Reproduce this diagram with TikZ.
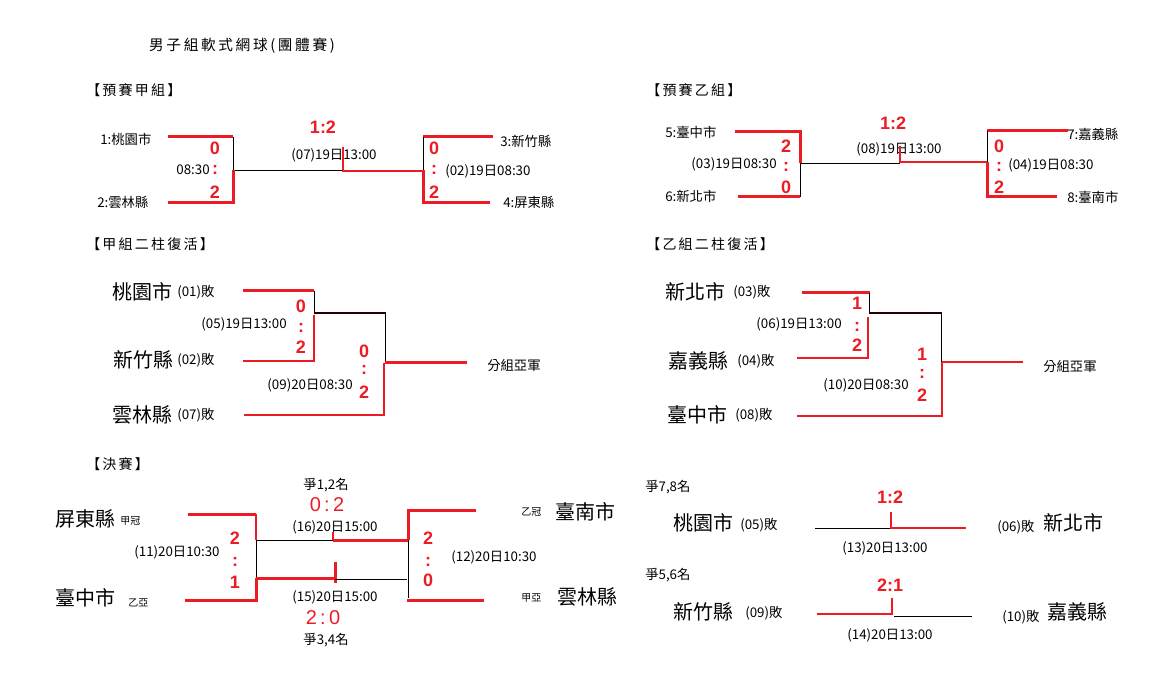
\documentclass[tikz,border=0pt]{standalone}
\usepackage{fontspec}
\setmainfont{Noto Sans CJK TC}
\newfontfamily\titlefont[LetterSpace=18]{Noto Sans CJK TC}
\newfontfamily\hdrfont[LetterSpace=16]{Noto Sans CJK TC}
\newfontfamily\scorefont{Liberation Sans}
\usetikzlibrary{positioning}
\definecolor{winred}{RGB}{237,28,36}

\begin{document}
\begin{tikzpicture}[x=0.75pt,y=-0.75pt,
  win/.style={winred,line width=2.25pt},
  winthin/.style={winred,line width=1.5pt},
  lose/.style={black,line width=0.6pt},
  done/.style={black!85!red,line width=1.5pt},
  sm/.style={font=\fontsize{10}{11}\selectfont,inner sep=0pt},
  wee/.style={font=\fontsize{7.5}{8}\selectfont,inner sep=0pt,anchor=west},
  big/.style={font=\fontsize{15}{16}\selectfont,inner sep=0pt,anchor=west},
  hdr/.style={font=\hdrfont\fontsize{10.5}{11}\selectfont,inner sep=0pt,anchor=west},
  score/.style={winred,font=\scorefont\bfseries\fontsize{13.5}{14}\selectfont,inner sep=0pt},
  fscore/.style={winred,font=\scorefont\fontsize{15}{16}\selectfont,inner sep=0pt}]

\useasboundingbox (0,0) rectangle (1163,680);

%------------------------
% Title
%------------------------
\node[font=\titlefont\fontsize{11}{12}\selectfont] (title) at (242,46) {男子組軟式網球(團體賽)};

%------------------------
% Group A (preliminary)
%------------------------
\node[hdr] (hA) at (86,90) {【預賽甲組】};
\node[sm,anchor=west] (a1) at (100,139) {1:桃園市};
\node[sm,anchor=west] (a2) at (97,202) {2:雲林縣};
\node[sm,anchor=west] (a3) at (500,141) {3:新竹縣};
\node[sm,anchor=west] (a4) at (503,202) {4:屏東縣};
\node[sm,anchor=east] (m01) at (210,170) {08:30};
\node[sm,anchor=west] (m02) at (445,171) {(02)19日08:30};
\node[sm] (m07) at (334,155) {(07)19日13:00};
\node[score] (r07) at (323,127) {1:2};

\draw[win] (168,137) -- (233,137);
\draw[lose] (233,137) -- (233,170) -- (343,170);
\draw[win] (233,170) -- (233,203) -- (168,203);
\draw[winthin] (343,147) -- (343,171) -- (423,171);
\draw[win] (493,137) -- (423,137);
\draw[lose] (423,137) -- (423,170);
\draw[win] (423,170) -- (423,203) -- (490,203);

%------------------------
% Group B (preliminary)
%------------------------
\node[hdr] (hB) at (646,90) {【預賽乙組】};
\node[sm,anchor=west] (b5) at (665,132) {5:臺中市};
\node[sm,anchor=west] (b6) at (665,196) {6:新北市};
\node[sm,anchor=west] (b7) at (1067,134) {7:嘉義縣};
\node[sm,anchor=west] (b8) at (1067,197) {8:臺南市};
\node[sm,anchor=east] (m03) at (777,164) {(03)19日08:30};
\node[sm,anchor=west] (m04) at (1008,165) {(04)19日08:30};
\node[sm] (m08) at (899,149) {(08)19日13:00};
\node[score] (r08) at (893,123) {1:2};

\draw[win] (735,132) -- (800,132) -- (800,163);
\draw[lose] (800,163) -- (800,197);
\draw[win] (738,197) -- (800,197);
\draw[lose] (800,163) -- (900,163);
\draw[winthin] (900,146) -- (900,162) -- (987,162);
\draw[win] (1068,131) -- (987,131);
\draw[lose] (987,131) -- (987,162);
\draw[win] (987,162) -- (987,197) -- (1057,197);

%------------------------
% Group A repechage
%------------------------
\node[hdr] (hC) at (86,244) {【甲組二柱復活】};
\node[big] (c1) at (112,292) {桃園市};
\node[sm,anchor=west] (c1l) at (177,292) {(01)敗};
\node[big] (c2) at (113,360) {新竹縣};
\node[sm,anchor=west] (c2l) at (177,360) {(02)敗};
\node[big] (c3) at (112,415) {雲林縣};
\node[sm,anchor=west] (c3l) at (177,415) {(07)敗};
\node[sm,anchor=east] (m05) at (287,324) {(05)19日13:00};
\node[sm,anchor=east] (m09) at (353,385) {(09)20日08:30};
\node[sm,anchor=west] (c2nd) at (487,365) {分組亞軍};

\draw[win] (243,291) -- (314,291);
\draw[lose] (314,291) -- (314,313);
\draw[done] (314,313) -- (386,313);
\draw[winthin] (314,315) -- (314,361) -- (243,361);
\draw[lose] (385,313) -- (385,363);
\draw[win] (385,363) -- (467,363);
\draw[winthin] (384,363) -- (384,415) -- (244,415);

%------------------------
% Group B repechage
%------------------------
\node[hdr] (hD) at (646,244) {【乙組二柱復活】};
\node[big] (d1) at (665,292) {新北市};
\node[sm,anchor=west] (d1l) at (733,292) {(03)敗};
\node[big] (d2) at (668,361) {嘉義縣};
\node[sm,anchor=west] (d2l) at (737,361) {(04)敗};
\node[big] (d3) at (667,415) {臺中市};
\node[sm,anchor=west] (d3l) at (735,415) {(08)敗};
\node[sm,anchor=east] (m06) at (842,324) {(06)19日13:00};
\node[sm,anchor=east] (m10) at (909,385) {(10)20日08:30};
\node[sm,anchor=west] (d2nd) at (1043,366) {分組亞軍};

\draw[win] (802,293) -- (870,293);
\draw[lose] (869,293) -- (869,313);
\draw[done] (869,313) -- (942,313);
\draw[winthin] (868,317) -- (868,358) -- (797,358);
\draw[lose] (941,313) -- (941,362);
\draw[winthin] (942,362) -- (1023,362);
\draw[winthin] (942,362) -- (942,416) -- (797,416);

%------------------------
% Final
%------------------------
\node[hdr] (hE) at (86,464) {【決賽】};
\node[sm] (p12) at (326,485) {爭1,2名};
\node[fscore] (r16) at (327,505) {0\,:\,2};
\node[big] (e1) at (55,519) {屏東縣};
\node[wee] (e1l) at (120,521) {甲冠};
\node[big] (e2) at (55,598) {臺中市};
\node[wee] (e2l) at (128,603) {乙亞};
\node[wee] (e3l) at (521,512) {乙冠};
\node[big] (e3) at (555,512) {臺南市};
\node[wee] (e4l) at (521,598) {甲亞};
\node[big] (e4) at (557,597) {雲林縣};
\node[sm] (m16) at (335,527) {(16)20日15:00};
\node[sm] (m11) at (177,552) {(11)20日10:30};
\node[sm] (m12) at (494,557) {(12)20日10:30};
\node[sm] (m15) at (335,597) {(15)20日15:00};
\node[fscore] (r15) at (323,618) {2\,:\,0};
\node[sm] (p34) at (326,640) {爭3,4名};

\draw[win] (188,514) -- (256,514);
\draw[winthin] (256,514) -- (256,540);
\draw[lose] (256,540) -- (333,540);
\draw[win] (333,540) -- (409,540);
\draw[winthin] (333,532) -- (333,540);
\draw[lose] (256,540) -- (256,578);
\draw[win] (256,578) -- (256,600) -- (185,600);
\draw[win] (256,578) -- (335,578);
\draw[win] (335,562) -- (335,583);
\draw[lose] (335,579) -- (407,579);
\draw[win] (476,510) -- (408,510) -- (408,540);
\draw[lose] (408,540) -- (408,598);
\draw[win] (407,600) -- (484,600);

%------------------------
% Places 7/8 and 5/6
%------------------------
\node[sm,anchor=west] (p78) at (645,487) {爭7,8名};
\node[big] (f1) at (673,523) {桃園市};
\node[sm,anchor=west] (f1l) at (740,525) {(05)敗};
\node[sm,anchor=west] (f2l) at (997,527) {(06)敗};
\node[big] (f2) at (1043,523) {新北市};
\node[score] (r13) at (890,497) {1:2};
\node[sm] (m13) at (885,548) {(13)20日13:00};

\node[sm,anchor=west] (p56) at (645,575) {爭5,6名};
\node[big] (g1) at (673,612) {新竹縣};
\node[sm,anchor=west] (g1l) at (745,613) {(09)敗};
\node[sm,anchor=west] (g2l) at (1002,617) {(10)敗};
\node[big] (g2) at (1047,612) {嘉義縣};
\node[score] (r14) at (890,585) {2:1};
\node[sm] (m14) at (890,635) {(14)20日13:00};

\draw[lose] (815,528) -- (890,528);
\draw[winthin] (891,512) -- (891,528) -- (966,528);
\draw[winthin] (817,614) -- (892,614) -- (892,598);
\draw[lose] (894,616) -- (972,616);

%------------------------
% Set scores
%------------------------
\foreach \n/\x/\y/\s in {
  sa1/215/148/0, sa2/215/170/:, sa3/215/192/2,
  sa4/434/148/0, sa5/434/170/:, sa6/434/192/2,
  sb1/786/146/2, sb2/786/167/:, sb3/786/187/0,
  sb4/999/146/0, sb5/999/167/:, sb6/999/187/2,
  sc1/301/306/0, sc2/301/328/:, sc3/301/347/2,
  sc4/364/351/0, sc5/364/370/:, sc6/364/392/2,
  sd1/857/303/1, sd2/857/327/:, sd3/857/345/2,
  sd4/922/354/1, sd5/922/374/:, sd6/922/395/2,
  se1/235/538/2, se2/235/562/:, se3/235/582/1,
  se4/428/538/2, se5/428/562/:, se6/428/580/0}
  \node[score] (\n) at (\x,\y) {\s};

\end{tikzpicture}
\end{document}
